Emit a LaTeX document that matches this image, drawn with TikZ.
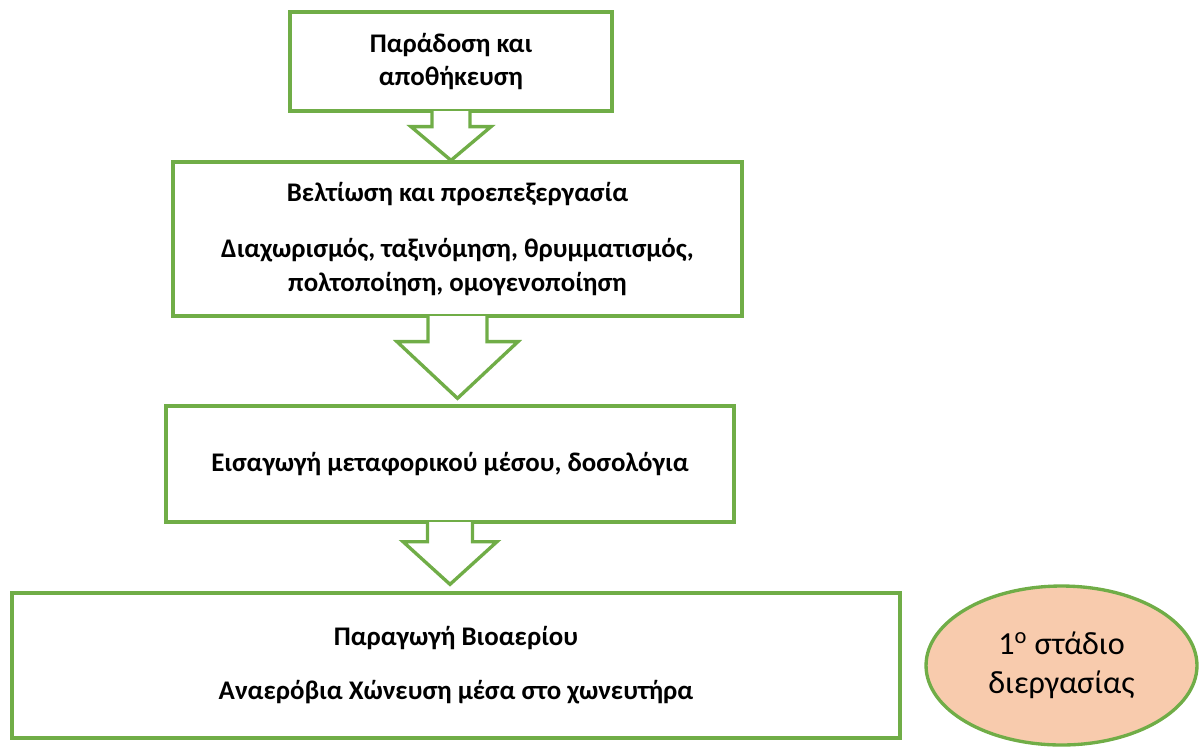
\documentclass[tikz,border=0pt]{standalone}
\usepackage{fontspec}
\setmainfont{Carlito}
\usepackage{xcolor}
\usepackage{tikz}
\usetikzlibrary{shapes.geometric,calc}
\definecolor{boxgreen}{HTML}{70AD47}
\definecolor{peach}{HTML}{F8CBAD}
\tikzset{
    stagebox/.style = {rectangle, draw=boxgreen, line width=1.9pt, fill=white, align=center, inner sep=0pt, font=\bfseries\fontsize{15.3}{18.8}\selectfont},
    stageoval/.style = {ellipse, draw=boxgreen, line width=1.9pt, fill=peach, align=center, inner sep=0pt, font=\fontsize{18.3}{22.4}\selectfont},
    blockarrow/.style = {draw=boxgreen, line width=1.9pt, fill=white, line join=miter}
}
\begin{document}
\begin{tikzpicture}[x=0.02cm, y=-0.02cm]
\useasboundingbox (0,0) rectangle (1203,748);

\node (delivery) [stagebox, minimum width=6.44cm, minimum height=1.98cm] at (451,61.5) {Παράδοση και\\αποθήκευση};
\node (pretreat) [stagebox, minimum width=11.38cm, minimum height=3.08cm] at (457.5,239) {Βελτίωση και προεπεξεργασία\\[0.46cm]Διαχωρισμός, ταξινόμηση, θρυμματισμός,\\πολτοποίηση, ομογενοποίηση};
\node (dosing) [stagebox, minimum width=11.36cm, minimum height=2.32cm] at (450,464) {Εισαγωγή μεταφορικού μέσου, δοσολόγια};
\node (biogas) [stagebox, minimum width=17.76cm, minimum height=2.9cm] at (456,665.5) {Παραγωγή Βιοαερίου\\[0.42cm]Αναερόβια Χώνευση μέσα στο χωνευτήρα};
\node (stage) [stageoval, minimum width=5.42cm, minimum height=3.18cm] at (1061.5,665.5) {1\textsuperscript{ο} στάδιο\\διεργασίας};

% block arrows between the stages
\draw [blockarrow] ($(delivery.south)+(-19,-1.5)$) -- ($(delivery.south)+(-19,14)$) -- ($(delivery.south)+(-40,14)$) -- (delivery.south |- pretreat.north) -- ($(delivery.south)+(40,14)$) -- ($(delivery.south)+(19,14)$) -- ($(delivery.south)+(19,-1.5)$);
\draw [blockarrow] ($(pretreat.south)+(-29.5,-1.5)$) -- ($(pretreat.south)+(-29.5,24)$) -- ($(pretreat.south)+(-60.5,24)$) -- ($(pretreat.south |- dosing.north)+(0,-6)$) -- ($(pretreat.south)+(60.5,24)$) -- ($(pretreat.south)+(29.5,24)$) -- ($(pretreat.south)+(29.5,-1.5)$);
\draw [blockarrow] ($(dosing.south)+(-22.5,-1.5)$) -- ($(dosing.south)+(-22.5,18)$) -- ($(dosing.south)+(-47,18)$) -- ($(dosing.south |- biogas.north)+(0,-7)$) -- ($(dosing.south)+(47,18)$) -- ($(dosing.south)+(22.5,18)$) -- ($(dosing.south)+(22.5,-1.5)$);
\end{tikzpicture}
\end{document}
